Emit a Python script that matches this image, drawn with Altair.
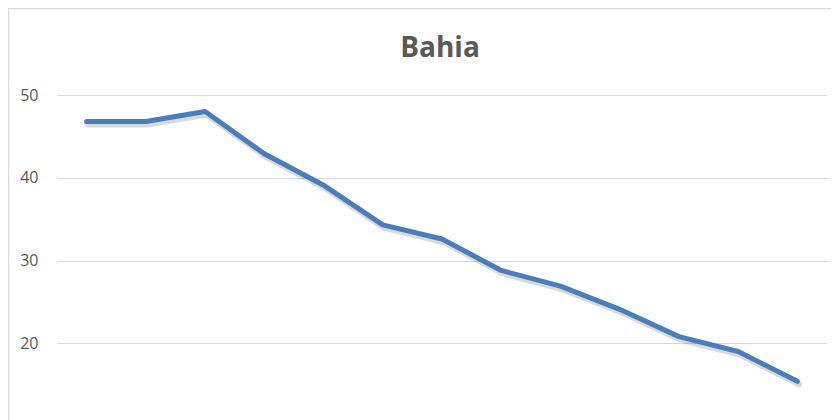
import altair as alt
import pandas as pd

# Data
anos = ["2004", "2005", "2006", "2007", "2008", "2009", "2010",
        "2011", "2012", "2013", "2014", "2015", "2016"]
valores = [46.8, 46.8, 48.0, 42.9, 39.1, 34.3, 32.6, 28.8, 26.9, 24.1, 20.8, 19.0, 15.4]
titulo = "Bahia"
y_ticks = [10, 20, 30, 40, 50]

df = pd.DataFrame({"Ano": anos, "Valor": valores})
df_title = pd.DataFrame({"t": [titulo]})

W, H = 770, 331
TEXT_COLOR = "#595959"
GRID = "#d9d9d9"
LINE = "#4a7ebb"

x_enc = alt.X("Ano:O", axis=None, sort=anos)
y_enc = alt.Y("Valor:Q",
              scale=alt.Scale(domain=[10, 50], nice=False, zero=False),
              axis=alt.Axis(values=y_ticks, title=None, domain=False, ticks=False,
                            labelPadding=19, labelFontSize=16, labelColor=TEXT_COLOR,
                            labelFont="Open Sans", gridColor=GRID, gridWidth=1))

shadow = alt.Chart(df).mark_line(
    color="#000000", opacity=0.15, strokeWidth=6, strokeCap="round",
    strokeJoin="round", xOffset=1.5, yOffset=3, clip=True
).encode(x=x_enc, y=y_enc)

line = alt.Chart(df).mark_line(
    color=LINE, strokeWidth=5, strokeCap="round", strokeJoin="round", clip=True
).encode(x=x_enc, y=y_enc)

title = alt.Chart(df_title).mark_text(
    font="Open Sans", fontSize=28, fontWeight="bold", color=TEXT_COLOR,
    align="center", baseline="alphabetic"
).encode(x=alt.value(383), y=alt.value(-38), text="t:N")

top_border = alt.Chart(df_title).mark_rule(color=GRID, strokeWidth=1.5).encode(
    x=alt.value(-49), x2=alt.value(W + 4), y=alt.value(-86.5))
left_border = alt.Chart(df_title).mark_rule(color=GRID, strokeWidth=1.5).encode(
    x=alt.value(-48.5), y=alt.value(-87), y2=alt.value(H))

chart = alt.layer(shadow, line, title, top_border, left_border).properties(
    width=W, height=H,
    padding={"left": 49, "top": 87, "right": 4, "bottom": 0},
    autosize=alt.AutoSizeParams(type="none"),
    background="white",
).configure_view(stroke=None)

chart.save("out.html", embed_options={"renderer": "svg", "actions": False})
